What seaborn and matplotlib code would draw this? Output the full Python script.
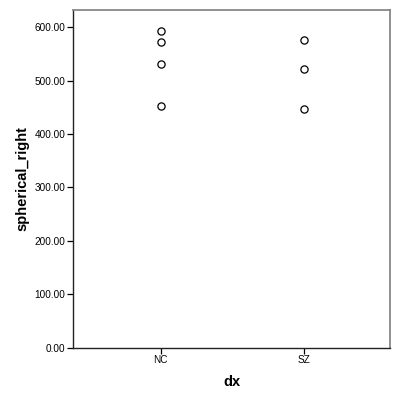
import matplotlib
matplotlib.use("Agg")
import matplotlib.pyplot as plt
import pandas as pd
import seaborn as sns

# values
dx = ["NC", "NC", "NC", "NC", "SZ", "SZ", "SZ"]
spherical_right = [593.0, 572.0, 531.0, 453.0, 576.0, 522.0, 447.0]
y_ticks = [0, 100, 200, 300, 400, 500, 600]

df = pd.DataFrame({"dx": dx, "spherical_right": spherical_right})

sns.set_style("white")
plt.rcParams["font.family"] = ["Liberation Sans", "DejaVu Sans"]

fig = plt.figure(figsize=(4, 4), dpi=100)
ax = fig.add_axes([0.183, 0.131, 0.792, 0.844])

sns.stripplot(
    data=df, x="dx", y="spherical_right", order=["NC", "SZ"],
    jitter=False, size=5.2, color="white", edgecolor="black",
    linewidth=0.9, ax=ax,
)

ax.set_xlim(-0.61, 1.60)
ax.set_ylim(0, 632)
ax.set_yticks(y_ticks)
ax.set_yticklabels([f"{v:.2f}" for v in y_ticks])

ax.tick_params(axis="both", direction="out", length=4, width=0.9,
               colors="black", labelsize=7.2, pad=1.5)
ax.tick_params(axis="both", left=True, bottom=True)

for side in ["left", "bottom"]:
    ax.spines[side].set_color("#222222")
    ax.spines[side].set_linewidth(1.0)
for side in ["top", "right"]:
    ax.spines[side].set_color("#888888")
    ax.spines[side].set_linewidth(1.3)

ax.set_xlabel("dx", fontsize=10.5, fontweight="bold", color="black", labelpad=7)
ax.set_ylabel("spherical_right", fontsize=10.5, fontweight="bold",
              color="black", labelpad=4)

fig.savefig("out.png", dpi=100)
